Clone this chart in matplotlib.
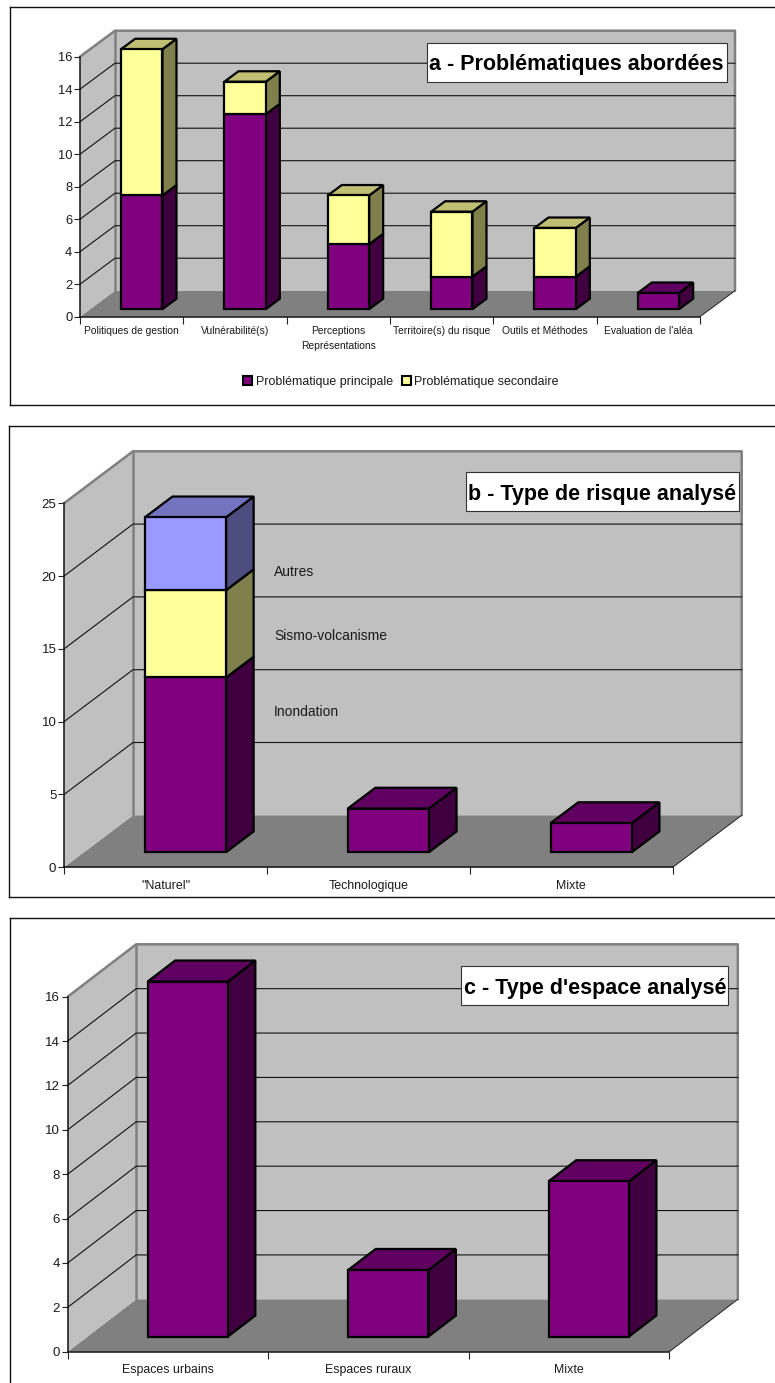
import numpy as np
import matplotlib
matplotlib.use('Agg')
import matplotlib.pyplot as plt
from matplotlib.patches import Polygon, Rectangle, Patch
from matplotlib.lines import Line2D

plt.rcParams['font.family'] = ['Liberation Sans', 'DejaVu Sans']

W, H = 775, 1383

# panel a
cats_a = ['Politiques de gestion', 'Vulnérabilité(s)', 'Perceptions\nReprésentations',
          'Territoire(s) du risque', 'Outils et Méthodes', "Evaluation de l'aléa"]
principale = [7, 12, 4, 2, 2, 1]
secondaire = [9, 2, 3, 4, 3, 0]
ticks_a = [0, 2, 4, 6, 8, 10, 12, 14, 16]

# panel b
cats_b = ['"Naturel"', 'Technologique', 'Mixte']
inondation = [12, 3, 2]
sismo = [6, 0, 0]
autres = [5, 0, 0]
ticks_b = [0, 5, 10, 15, 20, 25]

# panel c
cats_c = ['Espaces urbains', 'Espaces ruraux', 'Mixte']
espaces = [16, 3, 7]
ticks_c = [0, 2, 4, 6, 8, 10, 12, 14, 16]

PURPLE = ('#800080', '#400040', '#600060')
YELLOW = ('#FFFF99', '#80804D', '#BFBF73')
BLUE = ('#9999FF', '#4D4D80', '#7373BF')
TXT = '#1a1a1a'

fig = plt.figure(figsize=(W / 100, H / 100), dpi=100)


def fx(x):
    return x / W


def fy(y):
    return 1 - y / H


def frame(x0, y0, y1):
    fig.add_artist(Line2D([fx(x0), fx(W)], [fy(y0), fy(y0)], color='#111111', lw=1.0))
    fig.add_artist(Line2D([fx(x0), fx(x0)], [fy(y0), fy(y1)], color='#111111', lw=1.0))
    if y1 < H:
        fig.add_artist(Line2D([fx(x0), fx(W)], [fy(y1), fy(y1)], color='#111111', lw=1.0))


def title_box(x0, y0, x1, y1, label, size):
    fig.add_artist(Rectangle((fx(x0), fy(y1)), fx(x1 - x0), (y1 - y0) / H, facecolor='white',
                             edgecolor='#333333', lw=0.8, transform=fig.transFigure, zorder=8))
    fig.text(fx((x0 + x1) / 2), fy((y0 + y1) / 2), label, ha='center', va='center_baseline',
             fontsize=size, fontweight='bold', color='black', zorder=9)


def panel(box, ticks, cats, stacks, depth, cat_size, tick_size, pad):
    x0, ytop, x1, y0 = box
    ymax = ticks[-1]
    n = len(cats)
    ax = fig.add_axes([fx(x0), fy(y0), fx(x1 - x0), (y0 - ytop) / H])
    ax.set_xlim(0, n)
    ax.set_ylim(0, ymax)
    ax.patch.set_visible(False)

    # depth of the box, converted from pixels to data units
    ddx = depth[0] / ((x1 - x0) / n)
    ddy = depth[1] / ((y0 - ytop) / ymax)

    def poly(points, fc, ec, lw, z):
        ax.add_patch(Polygon(points, closed=True, facecolor=fc, edgecolor=ec, lw=lw,
                             joinstyle='miter', clip_on=False, zorder=z))

    # walls and floor
    poly([(0, 0), (ddx, ddy), (n + ddx, ddy), (n, 0)], '#808080', 'none', 0, 1)
    poly([(ddx, ddy), (n + ddx, ddy), (n + ddx, ymax + ddy), (ddx, ymax + ddy)], '#C0C0C0', 'none', 0, 1)
    poly([(0, 0), (ddx, ddy), (ddx, ymax + ddy), (0, ymax)], '#C0C0C0', 'none', 0, 1)
    grey = dict(color='#808080', lw=1.8, clip_on=False, zorder=2, solid_capstyle='round')
    ax.plot([0, ddx, n + ddx, n + ddx], [ymax, ymax + ddy, ymax + ddy, ddy], **grey)
    ax.plot([ddx, ddx], [ddy, ymax + ddy], **grey)
    ax.plot([n, n + ddx], [0, ddy], color='#222222', lw=0.7, clip_on=False, zorder=2)

    # gridlines, both walls
    for t in ticks[1:-1]:
        ax.plot([0, ddx, n + ddx], [t, t + ddy, t + ddy], color='#111111', lw=0.8,
                clip_on=False, zorder=3)

    # bars: front face with ax.bar, side and top faces as polygons
    bar_w = 0.4
    dfront = 0.29
    dbar = 0.40
    xc = np.arange(n) + 0.5 + dfront * ddx
    bottoms = np.zeros(n) + dfront * ddy
    for vals, cols in stacks:
        vals = np.array(vals, dtype=float)
        for i in range(n):
            if vals[i] <= 0:
                continue
            xl = xc[i] - bar_w / 2
            xr = xc[i] + bar_w / 2
            yb = bottoms[i]
            yt = yb + vals[i]
            poly([(xr, yb), (xr + dbar * ddx, yb + dbar * ddy), (xr + dbar * ddx, yt + dbar * ddy), (xr, yt)],
                 cols[1], 'black', 1.6, 5)
            poly([(xl, yt), (xl + dbar * ddx, yt + dbar * ddy), (xr + dbar * ddx, yt + dbar * ddy), (xr, yt)],
                 cols[2], 'black', 1.6, 5)
        ax.bar(xc, vals, bar_w, bottom=bottoms, color=cols[0], edgecolor=[
            'black' if v > 0 else 'none' for v in vals], lw=1.6, clip_on=False, zorder=6)
        bottoms = bottoms + vals

    # axes
    for s in ['top', 'right']:
        ax.spines[s].set_visible(False)
    for s in ['left', 'bottom']:
        ax.spines[s].set_color('#111111')
        ax.spines[s].set_linewidth(1.1)
        ax.spines[s].set_zorder(4)
    ax.set_yticks(ticks)
    ax.tick_params(axis='y', labelsize=tick_size, length=4, width=0.8, color='#222222', labelcolor=TXT, pad=1.5)
    ax.set_xticks(np.arange(n + 1))
    ax.set_xticklabels([])
    ax.set_xticks(np.arange(n) + 0.5, minor=True)
    ax.set_xticklabels(cats, minor=True, fontsize=cat_size, color=TXT, linespacing=1.6)
    ax.tick_params(axis='x', which='major', length=5, width=0.8, color='#222222')
    ax.tick_params(axis='x', which='minor', length=0, pad=pad)
    return ax


# a
frame(10, 6.5, 405)
ax_a = panel((80, 56.7, 700, 316.7), ticks_a, cats_a,
             [(principale, PURPLE), (secondaire, YELLOW)], (35, 26), 7.35, 9.3, 7)
title_box(426.7, 42.7, 726.7, 81.7, 'a - Problématiques abordées', 15.5)
fig.legend(handles=[Patch(facecolor=PURPLE[0], edgecolor='black', lw=1.5, label='Problématique principale'),
                    Patch(facecolor=YELLOW[0], edgecolor='black', lw=1.5, label='Problématique secondaire')],
           loc='center', bbox_to_anchor=(fx(401), fy(381.5)), ncol=2, frameon=False, fontsize=8.95,
           labelcolor=TXT, handlelength=0.72, handleheight=0.75, handletextpad=0.3, columnspacing=0.7,
           borderpad=0, borderaxespad=0)

# b
frame(9, 425.7, 896.7)
ax_b = panel((64, 503.3, 672.7, 867.3), ticks_b, cats_b,
             [(inondation, PURPLE), (sismo, YELLOW), (autres, BLUE)], (69, 52), 8.9, 9.5, 9)
title_box(465.7, 472.3, 739, 511.3, 'b - Type de risque analysé', 15.5)
fig.text(fx(274), fy(572), 'Autres', fontsize=10, color=TXT, va='center', zorder=7)
fig.text(fx(274), fy(636), 'Sismo-volcanisme', fontsize=10, color=TXT, va='center', zorder=7)
fig.text(fx(274), fy(712), 'Inondation', fontsize=10, color=TXT, va='center', zorder=7)

# c
frame(9.5, 918.3, H)
ax_c = panel((67.7, 996.7, 669.3, 1351.7), ticks_c, cats_c,
             [(espaces, PURPLE)], (68.5, 52.4), 8.9, 9.5, 9)
title_box(461.3, 966.3, 728.3, 1005.3, "c - Type d'espace analysé", 15.5)

fig.savefig('out.png', dpi=100)
